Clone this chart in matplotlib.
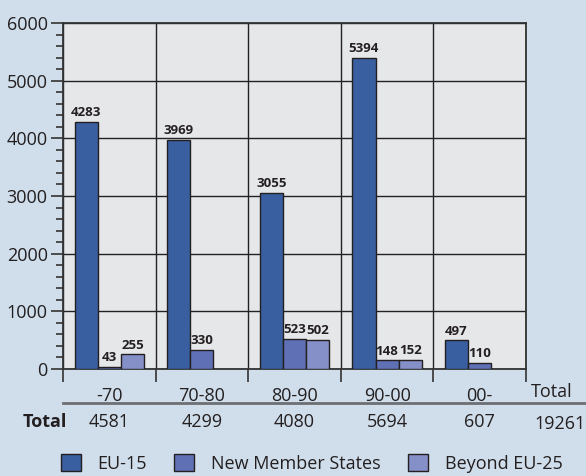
import numpy as np
import matplotlib.pyplot as plt
from matplotlib.patches import Patch
from matplotlib.lines import Line2D

periods = ['-70', '70-80', '80-90', '90-00', '00-']
eu15 = [4283, 3969, 3055, 5394, 497]
new_members = [43, 330, 523, 148, 110]
beyond = [255, np.nan, 502, 152, np.nan]
totals = [4581, 4299, 4080, 5694, 607]
grand_total = 19261

series = [('EU-15', eu15, '#3a5fa1'),
          ('New Member States', new_members, '#5f70b5'),
          ('Beyond EU-25', beyond, '#8690c8')]

plt.rcParams['font.family'] = ['Open Sans', 'DejaVu Sans']
txt = '#231f20'
fs = 13

fig = plt.figure(figsize=(5.86, 4.76), dpi=100, facecolor='#d0deeb')
ax = fig.add_axes([0.1075, 0.2248, 0.7901, 0.7269])
ax.set_facecolor('#e6e7e9')

x = np.arange(len(periods)) + 0.5
w = 0.25
for k, (name, vals, col) in enumerate(series):
    pos = x + (k - 1) * w
    ax.bar(pos, vals, width=w, color=col, edgecolor='#231f20', linewidth=1, zorder=3)
    for p, v in zip(pos, vals):
        if not np.isnan(v):
            ax.annotate(f'{int(v)}', (p, v), xytext=(0, 2), textcoords='offset points',
                        ha='center', va='bottom', fontsize=9.5, fontweight='bold', color=txt, zorder=4)

ax.set_xlim(0, len(periods))
ax.set_ylim(0, 6000)
ax.set_yticks(range(0, 6001, 1000))
ax.set_yticks(range(0, 6001, 200), minor=True)
ax.set_xticks(range(len(periods) + 1))
ax.set_xticklabels([])
ax.set_xticks(x, minor=True)
ax.set_xticklabels(periods, minor=True)

ax.tick_params(axis='y', which='major', length=9, width=1.2, color='#333333', labelsize=fs, pad=2, labelcolor=txt)
ax.tick_params(axis='y', which='minor', length=5, width=1.2, color='#333333')
ax.tick_params(axis='x', which='major', length=9, width=1.2, color='#333333')
ax.tick_params(axis='x', which='minor', length=0, labelsize=fs, pad=13, labelcolor=txt)

ax.grid(True, which='major', color='#222222', linewidth=1, zorder=1)
for s in ax.spines.values():
    s.set_color('#333333')
    s.set_linewidth(1.3)

# table row below the axis
trans = ax.get_xaxis_transform()
ax.text(5.28, -0.066, 'Total', transform=trans, ha='center', va='center', fontsize=fs, color=txt, clip_on=False)
ax.text(-0.2, -0.153, 'Total', transform=trans, ha='center', va='center', fontsize=fs,
        fontweight='bold', color=txt, clip_on=False)
for xi, t in zip(x, totals):
    ax.text(xi, -0.153, str(t), transform=trans, ha='center', va='center', fontsize=fs, color=txt, clip_on=False)
ax.text(5.37, -0.158, str(grand_total), transform=trans, ha='center', va='center', fontsize=fs, color=txt, clip_on=False)

fig.add_artist(Line2D([0.1075, 1.0], [0.1534, 0.1534], transform=fig.transFigure, color='#6d6e71', linewidth=2))

handles = [Patch(facecolor=c, edgecolor='#231f20', linewidth=1, label=n) for n, _, c in series]
leg = fig.legend(handles=handles, loc='center', bbox_to_anchor=(0.532, 0.027), ncol=3, frameon=False,
                 fontsize=fs, handlelength=1.1, handleheight=1.1, handletextpad=0.95, columnspacing=1.5)
for t in leg.get_texts():
    t.set_color(txt)

fig.savefig('out.png', dpi=100, facecolor=fig.get_facecolor())
